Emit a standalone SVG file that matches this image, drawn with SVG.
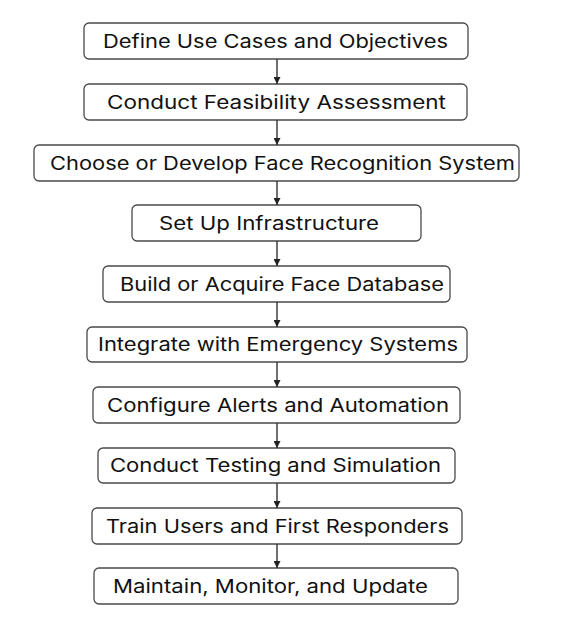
<svg xmlns="http://www.w3.org/2000/svg" width="565" height="628" viewBox="0 0 565 628">
<defs>
<style>
.box{fill:#fff;stroke:#4a4a4a;stroke-width:1.3}
.lbl{font-family:Inter,"Liberation Sans",Arial,sans-serif;font-size:18.5px;fill:#111}
.edge{stroke:#333;stroke-width:1.4;fill:none}
</style>
<marker id="ah" viewBox="0 0 10 10" refX="10" refY="5" markerWidth="7" markerHeight="7" markerUnits="userSpaceOnUse" orient="auto">
<path d="M0,0 L10,5 L0,10 z" fill="#222"/>
</marker>
</defs>
<rect width="565" height="628" fill="#fff"/>
<g id="n1"><rect class="box" x="84" y="23" width="384" height="36" rx="5"/><text class="lbl" x="103" y="48" textLength="345" lengthAdjust="spacingAndGlyphs">Define Use Cases and Objectives</text></g>
<g id="n2"><rect class="box" x="84" y="84" width="383" height="36" rx="5"/><text class="lbl" x="107" y="109" textLength="339" lengthAdjust="spacingAndGlyphs">Conduct Feasibility Assessment</text></g>
<g id="n3"><rect class="box" x="34" y="145" width="485" height="36" rx="5"/><text class="lbl" x="50" y="170" textLength="465" lengthAdjust="spacingAndGlyphs">Choose or Develop Face Recognition System</text></g>
<g id="n4"><rect class="box" x="132" y="205" width="289" height="36" rx="5"/><text class="lbl" x="159" y="230" textLength="220" lengthAdjust="spacingAndGlyphs">Set Up Infrastructure</text></g>
<g id="n5"><rect class="box" x="103" y="266" width="347" height="36" rx="5"/><text class="lbl" x="120" y="291" textLength="324" lengthAdjust="spacingAndGlyphs">Build or Acquire Face Database</text></g>
<g id="n6"><rect class="box" x="87" y="327" width="380" height="35" rx="5"/><text class="lbl" x="98" y="351" textLength="360" lengthAdjust="spacingAndGlyphs">Integrate with Emergency Systems</text></g>
<g id="n7"><rect class="box" x="93" y="387" width="367" height="36" rx="5"/><text class="lbl" x="107" y="412" textLength="342" lengthAdjust="spacingAndGlyphs">Configure Alerts and Automation</text></g>
<g id="n8"><rect class="box" x="98" y="448" width="357" height="35" rx="5"/><text class="lbl" x="110" y="472" textLength="331" lengthAdjust="spacingAndGlyphs">Conduct Testing and Simulation</text></g>
<g id="n9"><rect class="box" x="92" y="508" width="370" height="36" rx="5"/><text class="lbl" x="106" y="533" textLength="343" lengthAdjust="spacingAndGlyphs">Train Users and First Responders</text></g>
<g id="n10"><rect class="box" x="94" y="568" width="364" height="36" rx="5"/><text class="lbl" x="113" y="593" textLength="315" lengthAdjust="spacingAndGlyphs">Maintain, Monitor, and Update</text></g>
<g id="edges">
<line class="edge" x1="277" y1="59" x2="277" y2="84" marker-end="url(#ah)"/>
<line class="edge" x1="277" y1="120" x2="277" y2="145" marker-end="url(#ah)"/>
<line class="edge" x1="277" y1="181" x2="277" y2="205" marker-end="url(#ah)"/>
<line class="edge" x1="277" y1="241" x2="277" y2="266" marker-end="url(#ah)"/>
<line class="edge" x1="277" y1="302" x2="277" y2="327" marker-end="url(#ah)"/>
<line class="edge" x1="277" y1="362" x2="277" y2="387" marker-end="url(#ah)"/>
<line class="edge" x1="277" y1="423" x2="277" y2="448" marker-end="url(#ah)"/>
<line class="edge" x1="277" y1="483" x2="277" y2="508" marker-end="url(#ah)"/>
<line class="edge" x1="277" y1="544" x2="277" y2="568" marker-end="url(#ah)"/>
</g>
</svg>
